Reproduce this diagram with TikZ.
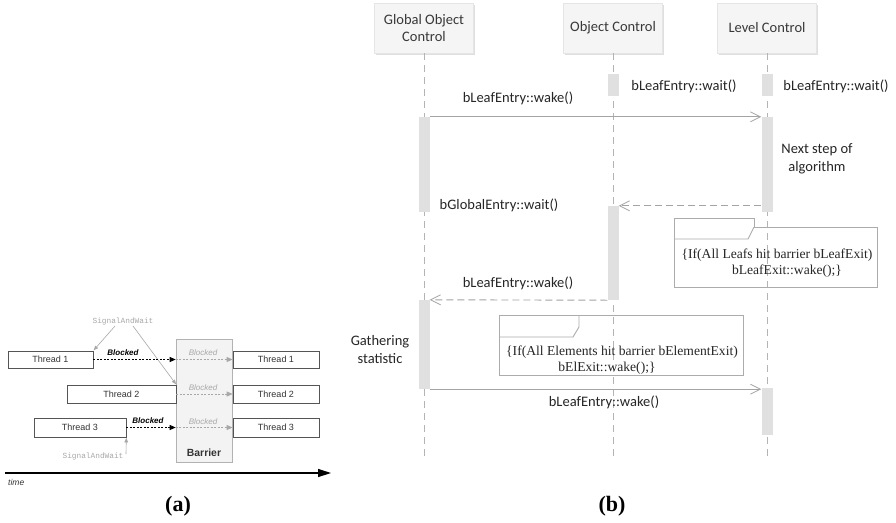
\documentclass[tikz,border=0pt]{standalone}
\usepackage{fontspec}
\setmainfont{Liberation Serif}
\newfontfamily\calfont{Carlito}
\newfontfamily\arfont{Liberation Sans}
\newfontfamily\monofont{Liberation Mono}
\usetikzlibrary{arrows.meta,shadows}

\definecolor{lifeline}{HTML}{B4B4B4}
\definecolor{msgline}{HTML}{A4A4A4}
\definecolor{actbar}{HTML}{E0E0E0}
\definecolor{hdrfill}{HTML}{F5F5F5}
\definecolor{notebd}{HTML}{ACACAC}
\definecolor{ghost}{HTML}{A8A8A8}
\definecolor{barrierfill}{HTML}{F3F3F3}
\definecolor{threadbd}{HTML}{555555}

\tikzset{
  header/.style={fill=hdrfill, draw=black!10, line width=0.5pt, minimum width=99, minimum height=50,
    inner sep=0, align=center, font=\calfont\fontsize{14.5}{17.5}\selectfont, text=black!78,
    drop shadow={opacity=0.25, shadow xshift=1.5pt, shadow yshift=-1.5pt}},
  lifeln/.style={draw=lifeline, line width=0.9pt, dash pattern=on 7pt off 5pt},
  actbox/.style={fill=actbar, draw=none, minimum width=11, inner sep=0},
  msgtxt/.style={font=\calfont\fontsize{14.5}{17.5}\selectfont, inner sep=0, align=center, text=black!85},
  syncmsg/.style={draw=msgline, line width=0.9pt, -{Straight Barb[length=10pt,width=10pt,line width=0.8pt]}},
  retmsg/.style={draw=msgline, line width=0.9pt, dash pattern=on 7pt off 4pt,
    -{Straight Barb[length=10pt,width=10pt,line width=0.8pt]}},
  notebox/.style={draw=notebd, line width=0.9pt},
  notetxt/.style={font=\fontsize{13.6}{16}\selectfont, inner sep=0, align=center, text=black!85},
  thread/.style={draw=threadbd, fill=white, line width=0.7pt, inner sep=0,
    font=\arfont\fontsize{9}{10}\selectfont, text=black!80},
  blk/.style={font=\arfont\bfseries\itshape\fontsize{8}{9}\selectfont, inner sep=0},
  ghosttxt/.style={font=\arfont\itshape\fontsize{8}{9}\selectfont, inner sep=0, text=ghost},
  sigtxt/.style={font=\monofont\fontsize{7.8}{9}\selectfont, inner sep=0, text=ghost},
  sigarrow/.style={draw=ghost, line width=0.6pt, -{Latex[length=5pt,width=4pt]}},
  blkarrow/.style={draw=black, line width=0.9pt, dash pattern=on 2pt off 1.5pt, -{Triangle[length=6pt,width=5pt]}},
  ghostarrow/.style={draw=ghost, line width=0.8pt, dash pattern=on 2pt off 1.5pt, -{Triangle[length=6pt,width=5pt]}},
  caption/.style={font=\bfseries\fontsize{22}{24}\selectfont, inner sep=0}
}

\begin{document}
\begin{tikzpicture}[x=1pt,y=-1pt]
\useasboundingbox[fill=white] (0,0) rectangle (896,522);

% ---------------- (a) barrier timeline ----------------
\node[fill=barrierfill, draw=black!30, line width=0.6pt, minimum width=56, minimum height=123, inner sep=0] (barrier) at (204,400.5) {};
\node[font=\arfont\bfseries\fontsize{10.4}{12}\selectfont, text=black!80, inner sep=0] (barlbl) at (204,453) {Barrier};

\node[thread, minimum width=85, minimum height=17] (t1l) at (50.5,359.5) {Thread 1};
\node[thread, minimum width=109, minimum height=18] (t2l) at (121.5,394) {Thread 2};
\node[thread, minimum width=92, minimum height=19] (t3l) at (80,427.5) {Thread 3};
\node[thread, minimum width=86, minimum height=17] (t1r) at (276,359.5) {Thread 1};
\node[thread, minimum width=86, minimum height=18] (t2r) at (276,394) {Thread 2};
\node[thread, minimum width=86, minimum height=19] (t3r) at (276,427.5) {Thread 3};

\node[sigtxt] (sigtop) at (123,321) {SignalAndWait};
\node[sigtxt] (sigbot) at (93,456) {SignalAndWait};
\coordinate (sigtopa) at (115,326);
\coordinate (sigtopb) at (133,326);
\coordinate (sigfoot) at (126,454);

\draw[sigarrow] (sigtopa) -- (t1l.north east);
\draw[sigarrow] (sigtopb) -- (t2l.north east);
\draw[sigarrow] (sigfoot) -- (t3l.south east);

\node[blk] (b1) at (123,353) {Blocked};
\node[blk] (b3) at (148,421) {Blocked};
\node[ghosttxt] (g1) at (203,353) {Blocked};
\node[ghosttxt] (g2) at (203,388) {Blocked};
\node[ghosttxt] (g3) at (203,422) {Blocked};

\draw[blkarrow] (t1l.east) -- (t1l.east -| barrier.west);
\draw[blkarrow] (t3l.east) -- (t3l.east -| barrier.west);
\draw[ghostarrow] (t1l.east -| barrier.west) -- (t1r.west);
\draw[ghostarrow] (t2l.east) -- (t2r.west);
\draw[ghostarrow] (t3l.east -| barrier.west) -- (t3r.west);

\coordinate (time0) at (5,473);
\coordinate (time1) at (331,473);
\draw[line width=1.3pt, -{Triangle[length=13pt,width=8pt]}] (time0) -- (time1);
\node[font=\arfont\itshape\fontsize{8.5}{10}\selectfont, inner sep=0, anchor=west, text=black!80] (timelbl) at (8,482) {time};

\node[caption] (capa) at (178,506) {(a)};

% ---------------- (b) sequence diagram ----------------
\node[header] (hg) at (424,28) {Global Object\\Control};
\node[header] (ho) at (613,28) {Object Control};
\node[header] (hl) at (767,28) {Level Control};

\coordinate (gend) at (424,460);
\coordinate (oend) at (613,460);
\coordinate (lend) at (767,460);
\draw[lifeln] (hg.south) -- (gend);
\draw[lifeln] (ho.south) -- (oend);
\draw[lifeln] (hl.south) -- (lend);

% activation bars
\node[actbox, minimum height=22] (oa0) at (613,85) {};
\node[actbox, minimum height=22] (la0) at (767,85) {};
\node[actbox, minimum height=95] (ga1) at (424,164.5) {};
\node[actbox, minimum height=95] (la1) at (767,164.5) {};
\node[actbox, minimum height=94] (oa1) at (613,253) {};
\node[actbox, minimum height=89] (ga2) at (424,344.5) {};
\node[actbox, minimum height=47] (la2) at (767,411.5) {};

% messages
\draw[syncmsg] (ga1.north east) -- (la1.north west);
\draw[retmsg] (la1.west |- oa1.north) -- (oa1.north east);
\draw[retmsg] (oa1.south west) -- (ga2.north east);
\draw[syncmsg] (ga2.south east) -- (ga2.south east -| la2.west);

\node[msgtxt] (m1) at (518,98) {bLeafEntry::wake()};
\node[msgtxt] (w1) at (684,86) {bLeafEntry::wait()};
\node[msgtxt] (w2) at (836,86) {bLeafEntry::wait()};
\node[msgtxt] (nx) at (817,159) {Next step of\\algorithm};
\node[msgtxt] (m2) at (499,205) {bGlobalEntry::wait()};
\node[msgtxt] (m3) at (518,283) {bLeafEntry::wake()};
\node[msgtxt] (gs) at (380,349.5) {Gathering\\statistic};
\node[msgtxt] (m4) at (604,402) {bLeafEntry::wake()};

% note frames
\draw[notebox] (674,218) -- (754,218) -- (754,227) -- (877,227) -- (877,287) -- (674,287) -- cycle;
\draw[notebox] (754,227) -- (748,239) -- (674,239);
\node[notetxt] (n1a) at (777,255) {\{If(All Leafs hit barrier bLeafExit)};
\node[notetxt] (n1b) at (787,271) {bLeafExit::wake();\}};

\draw[notebox] (499,315) rectangle (743,375);
\draw[notebox] (579,315) -- (579,327) -- (573,337) -- (499,337);
\node[notetxt] (n2a) at (622,352) {\{If(All Elements hit barrier bElementExit)};
\node[notetxt] (n2b) at (607,368) {bElExit::wake();\}};

\node[caption] (capb) at (612,506) {(b)};
\end{tikzpicture}
\end{document}
